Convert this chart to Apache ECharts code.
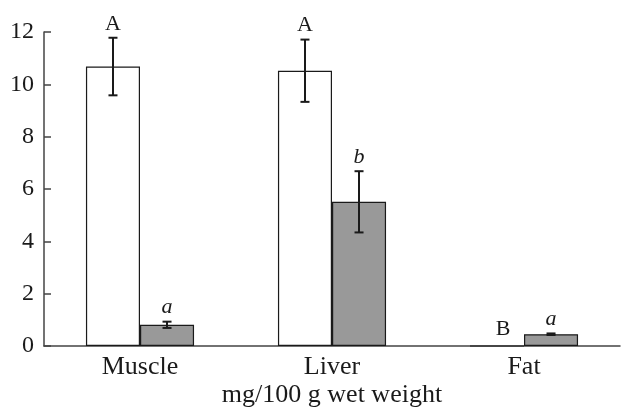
<!DOCTYPE html>
<html>
<head>
<meta charset="utf-8">
<script src="https://cdn.jsdelivr.net/npm/echarts@6/dist/echarts.min.js"></script>
<style>html,body{margin:0;padding:0;background:#fff;}#chart{width:621px;height:408px;}</style>
</head>
<body>
<div id="chart"></div>
<script>
const categories = ['Muscle', 'Liver', 'Fat'];
const controlValues = [10.68, 10.52, 0];
const controlErrors = [1.1, 1.19, 0];
const controlLetters = ['A', 'A', 'B'];
const treatedValues = [0.81, 5.51, 0.45];
const treatedErrors = [0.12, 1.17, 0.03];
const treatedLetters = ['a', 'b', 'a'];
const yMin = 0, yMax = 12, yStep = 2;
const axisTitle = 'mg/100 g wet weight';

const FONT = '"Liberation Serif", "DejaVu Serif", serif';
const CAT_GAP = 0.437;

function errSeries(values, errors, letters, side, italic) {
  return {
    type: 'custom',
    z: 10,
    data: categories.map((c, i) => [i, values[i], errors[i], letters[i]]),
    encode: { x: 0, y: 1 },
    renderItem: function (params, api) {
      const i = api.value(0), v = api.value(1), e = api.value(2);
      const letter = letters[i];
      const base = api.coord([i, v]);
      const catW = api.size([1, 0])[0];
      const bw = catW * (1 - CAT_GAP) / 2;
      const cx = base[0] + side * bw / 2;
      const top = api.coord([i, v + e])[1];
      const bot = api.coord([i, v - e])[1];
      const cap = 4.5;
      const st = { stroke: '#1a1a1a', lineWidth: 2 };
      const children = [];
      if (e > 0) {
        children.push({ type: 'line', shape: { x1: cx, y1: top, x2: cx, y2: bot }, style: st });
        children.push({ type: 'line', shape: { x1: cx - cap, y1: top, x2: cx + cap, y2: top }, style: st });
        children.push({ type: 'line', shape: { x1: cx - cap, y1: bot, x2: cx + cap, y2: bot }, style: st });
      }
      const zero = (e === 0 && v === 0);
      children.push({
        type: 'text',
        style: {
          x: cx + (zero ? 6 : 0), y: top - (zero ? 6 : 3),
          text: letter,
          textAlign: 'center', textVerticalAlign: 'bottom',
          font: (italic ? 'italic ' : '') + '22px ' + FONT,
          fill: '#1a1a1a'
        }
      });
      return { type: 'group', children: children };
    }
  };
}

const chart = echarts.init(document.getElementById('chart'));
chart.setOption({
  animation: false,
  backgroundColor: '#fff',
  grid: { left: 44, right: 1, top: 32, bottom: 62, containLabel: false, outerBoundsMode: 'none' },
  xAxis: {
    type: 'category',
    data: categories,
    name: axisTitle,
    nameLocation: 'middle',
    nameGap: 36,
    nameMoveOverlap: false,
    nameTextStyle: { fontFamily: FONT, fontSize: 26, color: '#1a1a1a' },
    axisLine: { lineStyle: { color: '#444', width: 1.5 } },
    axisTick: { inside: true, length: 8, lineStyle: { color: '#444', width: 1.5 } },
    axisLabel: { fontFamily: FONT, fontSize: 26, color: '#1a1a1a', margin: 8 }
  },
  yAxis: {
    type: 'value',
    min: yMin, max: yMax, interval: yStep,
    axisLine: { show: true, lineStyle: { color: '#444', width: 1.5 } },
    axisTick: { show: true, inside: true, length: 7, lineStyle: { color: '#444', width: 1.5 } },
    axisLabel: { fontFamily: FONT, fontSize: 24, color: '#1a1a1a', margin: 10 },
    splitLine: { show: false }
  },
  series: [
    {
      type: 'bar', data: controlValues, barGap: '0%', barCategoryGap: (CAT_GAP * 100) + '%',
      itemStyle: { color: '#ffffff', borderColor: '#1a1a1a', borderWidth: 1.2 }
    },
    {
      type: 'bar', data: treatedValues,
      itemStyle: { color: '#999999', borderColor: '#1a1a1a', borderWidth: 1.2 }
    },
    errSeries(controlValues, controlErrors, controlLetters, -1, false),
    errSeries(treatedValues, treatedErrors, treatedLetters, 1, true)
  ]
});
</script>
</body>
</html>
